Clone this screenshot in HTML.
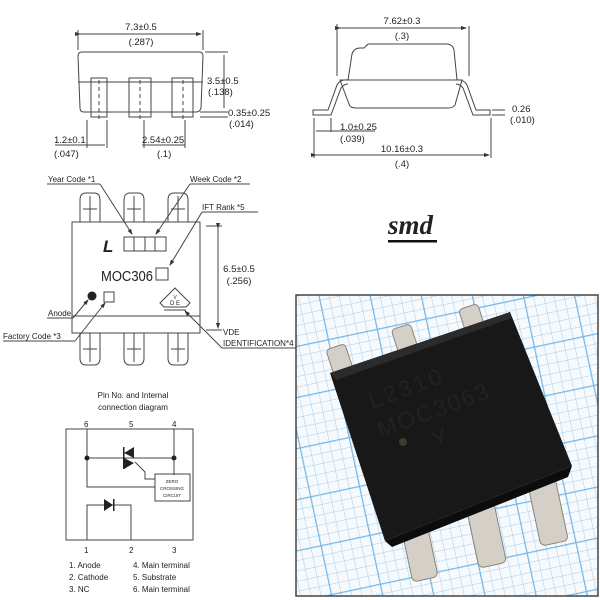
<!DOCTYPE html>
<html><head><meta charset="utf-8"><style>
html,body{margin:0;padding:0;background:#fff;}
svg{display:block;}
text{font-family:"Liberation Sans",sans-serif;fill:#222;}
</style></head><body>
<svg width="600" height="600" viewBox="0 0 600 600" xmlns="http://www.w3.org/2000/svg">
<defs>
<marker id="a" markerWidth="6" markerHeight="6" refX="5" refY="3" orient="auto"><path d="M0,1 L6,3 L0,5z" fill="#333"/></marker>
<pattern id="g" width="10" height="10" patternUnits="userSpaceOnUse" patternTransform="rotate(-12)">
<rect width="10" height="10" fill="#f7fafd"/><path d="M0,0 H10 M0,0 V10" stroke="#a5cdec" stroke-width="1"/></pattern>
<pattern id="g2" width="50" height="50" patternUnits="userSpaceOnUse" patternTransform="rotate(-12)">
<path d="M0,0 H50 M0,0 V50" stroke="#4ea5e4" stroke-width="2.5"/></pattern>
<clipPath id="pc"><rect x="296" y="295" width="302" height="301"/></clipPath>
</defs>
<g fill="none" stroke="#444" stroke-width="1">
<path d="M78,56 Q78,52 82,52 L199,52 Q203,52 203,56 L201,108 Q200,112 196,112 L84,112 Q80,112 80,108 Z"/>
<line x1="78" y1="82" x2="203" y2="82"/>
<rect x="91" y="78" width="16" height="39"/><rect x="129" y="78" width="22" height="39"/><rect x="172" y="78" width="21" height="39"/>
<line x1="99" y1="80" x2="99" y2="122" stroke-dasharray="4,3"/><line x1="140" y1="80" x2="140" y2="122" stroke-dasharray="4,3"/><line x1="183" y1="80" x2="183" y2="122" stroke-dasharray="4,3"/>
<line x1="78" y1="30" x2="78" y2="50"/><line x1="203" y1="30" x2="203" y2="50"/>
<line x1="80" y1="34" x2="201" y2="34" marker-end="url(#a)" marker-start="url(#a)"/>
<line x1="205" y1="52" x2="228" y2="52"/><line x1="224" y1="55" x2="224" y2="108"/>
<line x1="200" y1="112" x2="228" y2="112"/><line x1="200" y1="117" x2="228" y2="117"/>
<line x1="87" y1="120" x2="87" y2="148"/><line x1="107" y1="120" x2="107" y2="148"/>
<line x1="144" y1="120" x2="144" y2="148"/><line x1="185" y1="120" x2="185" y2="148"/>
<line x1="55" y1="145" x2="105" y2="145"/><line x1="142" y1="145" x2="185" y2="145"/>
<path d="M348,80 L352,54 Q354,48 360,48 L364,48 L368,44 L448,44 Q453,45 454,50 L457,80"/>
<path d="M340,80 L462,80 L455,105 Q453,108 448,108 L356,108 Q350,108 349,104 Z"/>
<path d="M348,80 Q340,79 337,85 L328,110 L313,110 L313,115 L331,115 L341,88 Q344,84 348,84"/>
<path d="M456,80 Q464,79 467,85 L476,110 L490,110 L490,115 L473,115 L463,88 Q460,84 456,84"/>
<line x1="337" y1="24" x2="337" y2="76"/><line x1="469" y1="26" x2="469" y2="76"/>
<line x1="340" y1="28" x2="466" y2="28" marker-end="url(#a)" marker-start="url(#a)"/>
<line x1="314" y1="118" x2="314" y2="158"/><line x1="491" y1="118" x2="491" y2="158"/>
<line x1="316" y1="155" x2="489" y2="155" marker-end="url(#a)" marker-start="url(#a)"/>
<line x1="331" y1="118" x2="331" y2="132"/><line x1="316" y1="131" x2="375" y2="131"/>
<line x1="492" y1="110" x2="505" y2="110"/><line x1="492" y1="115" x2="505" y2="115"/>
<rect x="72" y="222" width="128" height="111"/>
<line x1="72" y1="316" x2="200" y2="316"/>
<g>
<path d="M80,222 L80,200 Q80,193 86,193 L94,193 Q100,193 100,200 L100,222"/><path d="M124,222 L124,200 Q124,193 130,193 L138,193 Q144,193 144,200 L144,222"/><path d="M168,222 L168,200 Q168,193 174,193 L182,193 Q188,193 188,200 L188,222"/>
<path d="M80,333 L80,358 Q80,365 86,365 L94,365 Q100,365 100,358 L100,333"/><path d="M124,333 L124,358 Q124,365 130,365 L138,365 Q144,365 144,358 L144,333"/><path d="M168,333 L168,358 Q168,365 174,365 L182,365 Q188,365 188,358 L188,333"/>
<line x1="90" y1="196" x2="90" y2="222"/><line x1="134" y1="196" x2="134" y2="222"/><line x1="178" y1="196" x2="178" y2="222"/>
<line x1="90" y1="333" x2="90" y2="362"/><line x1="134" y1="333" x2="134" y2="362"/><line x1="178" y1="333" x2="178" y2="362"/>
<line x1="83" y1="209" x2="97" y2="209"/><line x1="127" y1="209" x2="141" y2="209"/><line x1="171" y1="209" x2="185" y2="209"/>
<line x1="83" y1="349" x2="97" y2="349"/><line x1="127" y1="349" x2="141" y2="349"/><line x1="171" y1="349" x2="185" y2="349"/>
</g>
<rect x="124" y="237" width="42" height="14"/><line x1="134" y1="237" x2="134" y2="251"/><line x1="145" y1="237" x2="145" y2="251"/><line x1="155" y1="237" x2="155" y2="251"/>
<rect x="156" y="268" width="12" height="12"/>
<rect x="104" y="292" width="10" height="10"/>
<path d="M160,303 L175,288 L190,303 L186,307 L164,307 Z"/><line x1="164" y1="310" x2="186" y2="310"/>
<line x1="206" y1="226" x2="222" y2="226"/><line x1="206" y1="330" x2="222" y2="330"/>
<line x1="218" y1="228" x2="218" y2="328" marker-end="url(#a)" marker-start="url(#a)"/>
<line x1="47" y1="184" x2="100" y2="184"/><line x1="100" y1="184" x2="132" y2="234" marker-end="url(#a)"/>
<line x1="190" y1="184" x2="250" y2="184"/><line x1="190" y1="184" x2="156" y2="234" marker-end="url(#a)"/>
<line x1="202" y1="212" x2="258" y2="212"/><line x1="202" y1="212" x2="170" y2="265" marker-end="url(#a)"/>
<line x1="47" y1="318" x2="73" y2="318"/><line x1="73" y1="318" x2="88" y2="300" marker-end="url(#a)"/>
<line x1="3" y1="341" x2="75" y2="341"/><line x1="75" y1="341" x2="105" y2="303" marker-end="url(#a)"/>
<line x1="222" y1="348" x2="300" y2="348"/><line x1="222" y1="348" x2="185" y2="311" marker-end="url(#a)"/>
<rect x="66" y="429" width="127" height="111"/>
<polyline points="87,429 87,487 155,487"/>
<line x1="87" y1="458" x2="174" y2="458"/>
<polyline points="174,429 174,475"/>
<polyline points="135,462 145,472 145,479 155,479"/>
<rect x="155" y="474" width="35" height="27"/>
<polyline points="87,540 87,505 131,505 131,540"/>
</g>
<g fill="#222">
<circle cx="87" cy="458" r="2.5"/><circle cx="174" cy="458" r="2.5"/>
<path d="M124,453 L134,447 L134,458 Z"/><path d="M124,458 L124,469 L134,463 Z"/>
<rect x="123" y="447" width="1.5" height="22"/>
<path d="M104,499 L104,511 L113,505 Z"/><rect x="113" y="499" width="1.5" height="12"/>
<circle cx="92" cy="296" r="4.5"/>
</g>
<g font-size="9.5" text-anchor="middle">
<text x="141" y="30">7.3±0.5</text><text x="141" y="45">(.287)</text>
<text x="402" y="24">7.62±0.3</text><text x="402" y="39">(.3)</text>
<text x="402" y="152">10.16±0.3</text><text x="402" y="167">(.4)</text>
<text x="239" y="272">6.5±0.5</text><text x="239" y="284">(.256)</text>
</g>
<g font-size="9.5">
<text x="207" y="84">3.5±0.5</text><text x="208" y="95">(.138)</text>
<text x="228" y="116">0.35±0.25</text><text x="229" y="127">(.014)</text>
<text x="54" y="143">1.2±0.1</text><text x="54" y="157">(.047)</text>
<text x="142" y="143">2.54±0.25</text><text x="157" y="157">(.1)</text>
<text x="512" y="112">0.26</text><text x="510" y="123">(.010)</text>
<text x="340" y="130">1.0±0.25</text><text x="340" y="142">(.039)</text>
</g>
<g font-size="8">
<text x="48" y="182">Year Code *1</text><text x="190" y="182">Week Code *2</text>
<text x="202" y="210">IFT Rank *5</text>
<text x="48" y="316">Anode</text><text x="3" y="339">Factory Code *3</text>
<text x="223" y="335">VDE</text><text x="223" y="346">IDENTIFICATION*4</text>
<text x="133" y="398" text-anchor="middle">Pin No. and Internal</text>
<text x="133" y="410" text-anchor="middle">connection diagram</text>
<text x="84" y="427">6</text><text x="129" y="427">5</text><text x="172" y="427">4</text>
<text x="84" y="553">1</text><text x="129" y="553">2</text><text x="172" y="553">3</text>
<text x="69" y="568">1. Anode</text><text x="69" y="580">2. Cathode</text><text x="69" y="592">3. NC</text>
<text x="133" y="568">4. Main terminal</text><text x="133" y="580">5. Substrate</text><text x="133" y="592">6. Main terminal</text>
<text x="175" y="299" font-size="5" text-anchor="middle">V</text><text x="175" y="305" font-size="6" text-anchor="middle">D E</text>
</g>
<g font-size="4.5" text-anchor="middle"><text x="172" y="483">ZERO</text><text x="172" y="490">CROSSING</text><text x="172" y="497">CIRCUIT</text></g>
<text x="103" y="252" font-size="17" font-weight="bold" font-style="italic">L</text>
<text x="101" y="281" font-size="15" textLength="52" lengthAdjust="spacingAndGlyphs">MOC306</text>
<text x="388" y="234" font-size="27" font-weight="bold" font-style="italic" style="font-family:'Liberation Serif',serif">smd</text>
<rect x="388" y="240" width="49" height="2.5" fill="#111"/>
<g clip-path="url(#pc)">
<rect x="296" y="295" width="302" height="301" fill="url(#g)"/>
<rect x="296" y="295" width="302" height="301" fill="url(#g2)" opacity="0.7"/>
<g fill="#d4d0c8" stroke="#8a857c" stroke-width="1">
<rect x="330" y="346" width="20" height="30" rx="4" transform="rotate(-18 340 361)"/>
<rect x="395" y="326" width="20" height="28" rx="4" transform="rotate(-18 405 340)"/>
<rect x="462" y="306" width="20" height="26" rx="4" transform="rotate(-18 472 319)"/>
<rect x="406" y="518" width="26" height="62" rx="5" transform="rotate(-12 419 549)"/>
<rect x="472" y="500" width="28" height="66" rx="5" transform="rotate(-12 486 533)"/>
<rect x="534" y="480" width="28" height="64" rx="5" transform="rotate(-12 548 512)"/>
</g>
<path d="M330,373 L510,312 L572,466 L385,541 Z" fill="#181818"/>
<path d="M330,373 L510,312 L512,318 L336,380 Z" fill="#2b2b2b"/>
<path d="M385,541 L572,466 L568,477 L392,547 Z" fill="#0c0c0c"/>
<g fill="#3e3c31" font-size="23" transform="rotate(-20 420 400)">
<text x="372" y="392" letter-spacing="3">L2310</text><text x="370" y="422" letter-spacing="2">MOC3063</text><text x="418" y="450">Y</text>
</g>
<circle cx="403" cy="442" r="4" fill="#3e3c31"/>
</g>
<rect x="296" y="295" width="302" height="301" fill="none" stroke="#444" stroke-width="1.5"/>
</svg>
</body></html>
